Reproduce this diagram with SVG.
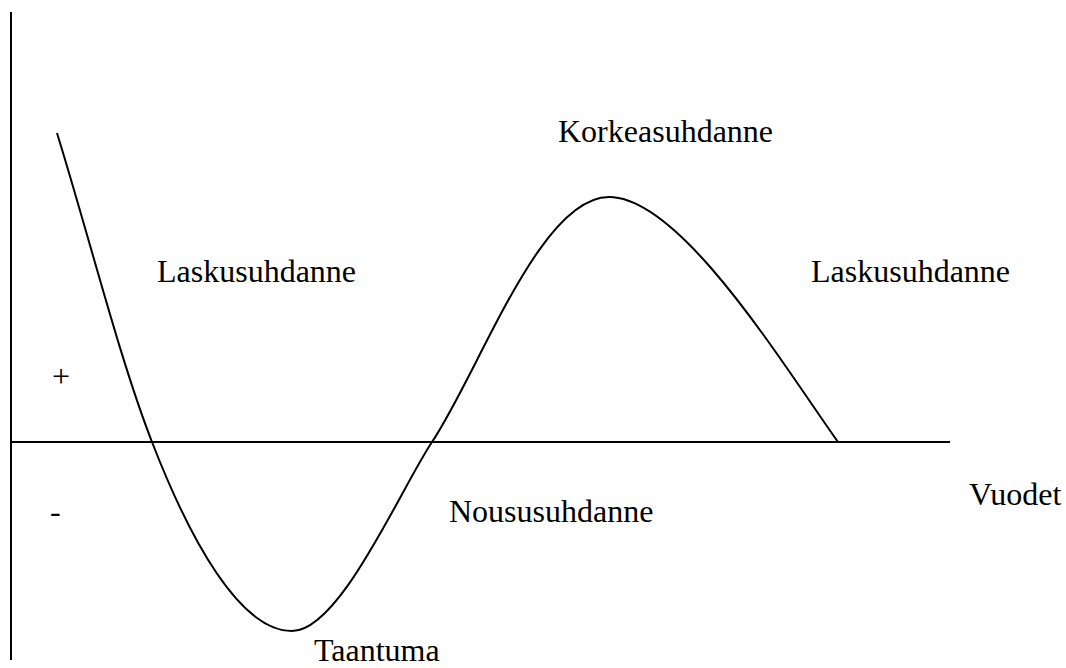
<svg xmlns="http://www.w3.org/2000/svg" width="1066" height="668" viewBox="0 0 1066 668">
<style>
.ln{fill:none;stroke:#000;stroke-width:2}
.t{font-family:'Liberation Serif','Times New Roman',Times,serif;font-size:32px;fill:#000}
</style>
<rect width="1066" height="668" fill="#fff"/>
<g id="axes">
<line class="ln" x1="11" y1="12" x2="11" y2="660"/>
<line class="ln" x1="11" y1="442" x2="950" y2="442"/>
</g>
<g id="connectors">
<path class="ln" d="M57,133 C90,240 120,360 152,442 C190,540 240,631 292,631 C340,631 400,490 432,442 C480,370 540,197 609,197 C680,197 780,360 838,442"/>
</g>
<g id="labels">
<text class="t" x="558" y="142">Korkeasuhdanne</text>
<text class="t" x="157" y="282">Laskusuhdanne</text>
<text class="t" x="811" y="282">Laskusuhdanne</text>
<text class="t" x="449" y="522">Noususuhdanne</text>
<text class="t" x="969" y="505">Vuodet</text>
<text class="t" x="314" y="661">Taantuma</text>
<text class="t" x="52" y="387">+</text>
<text class="t" x="50" y="522">-</text>
</g>
</svg>
